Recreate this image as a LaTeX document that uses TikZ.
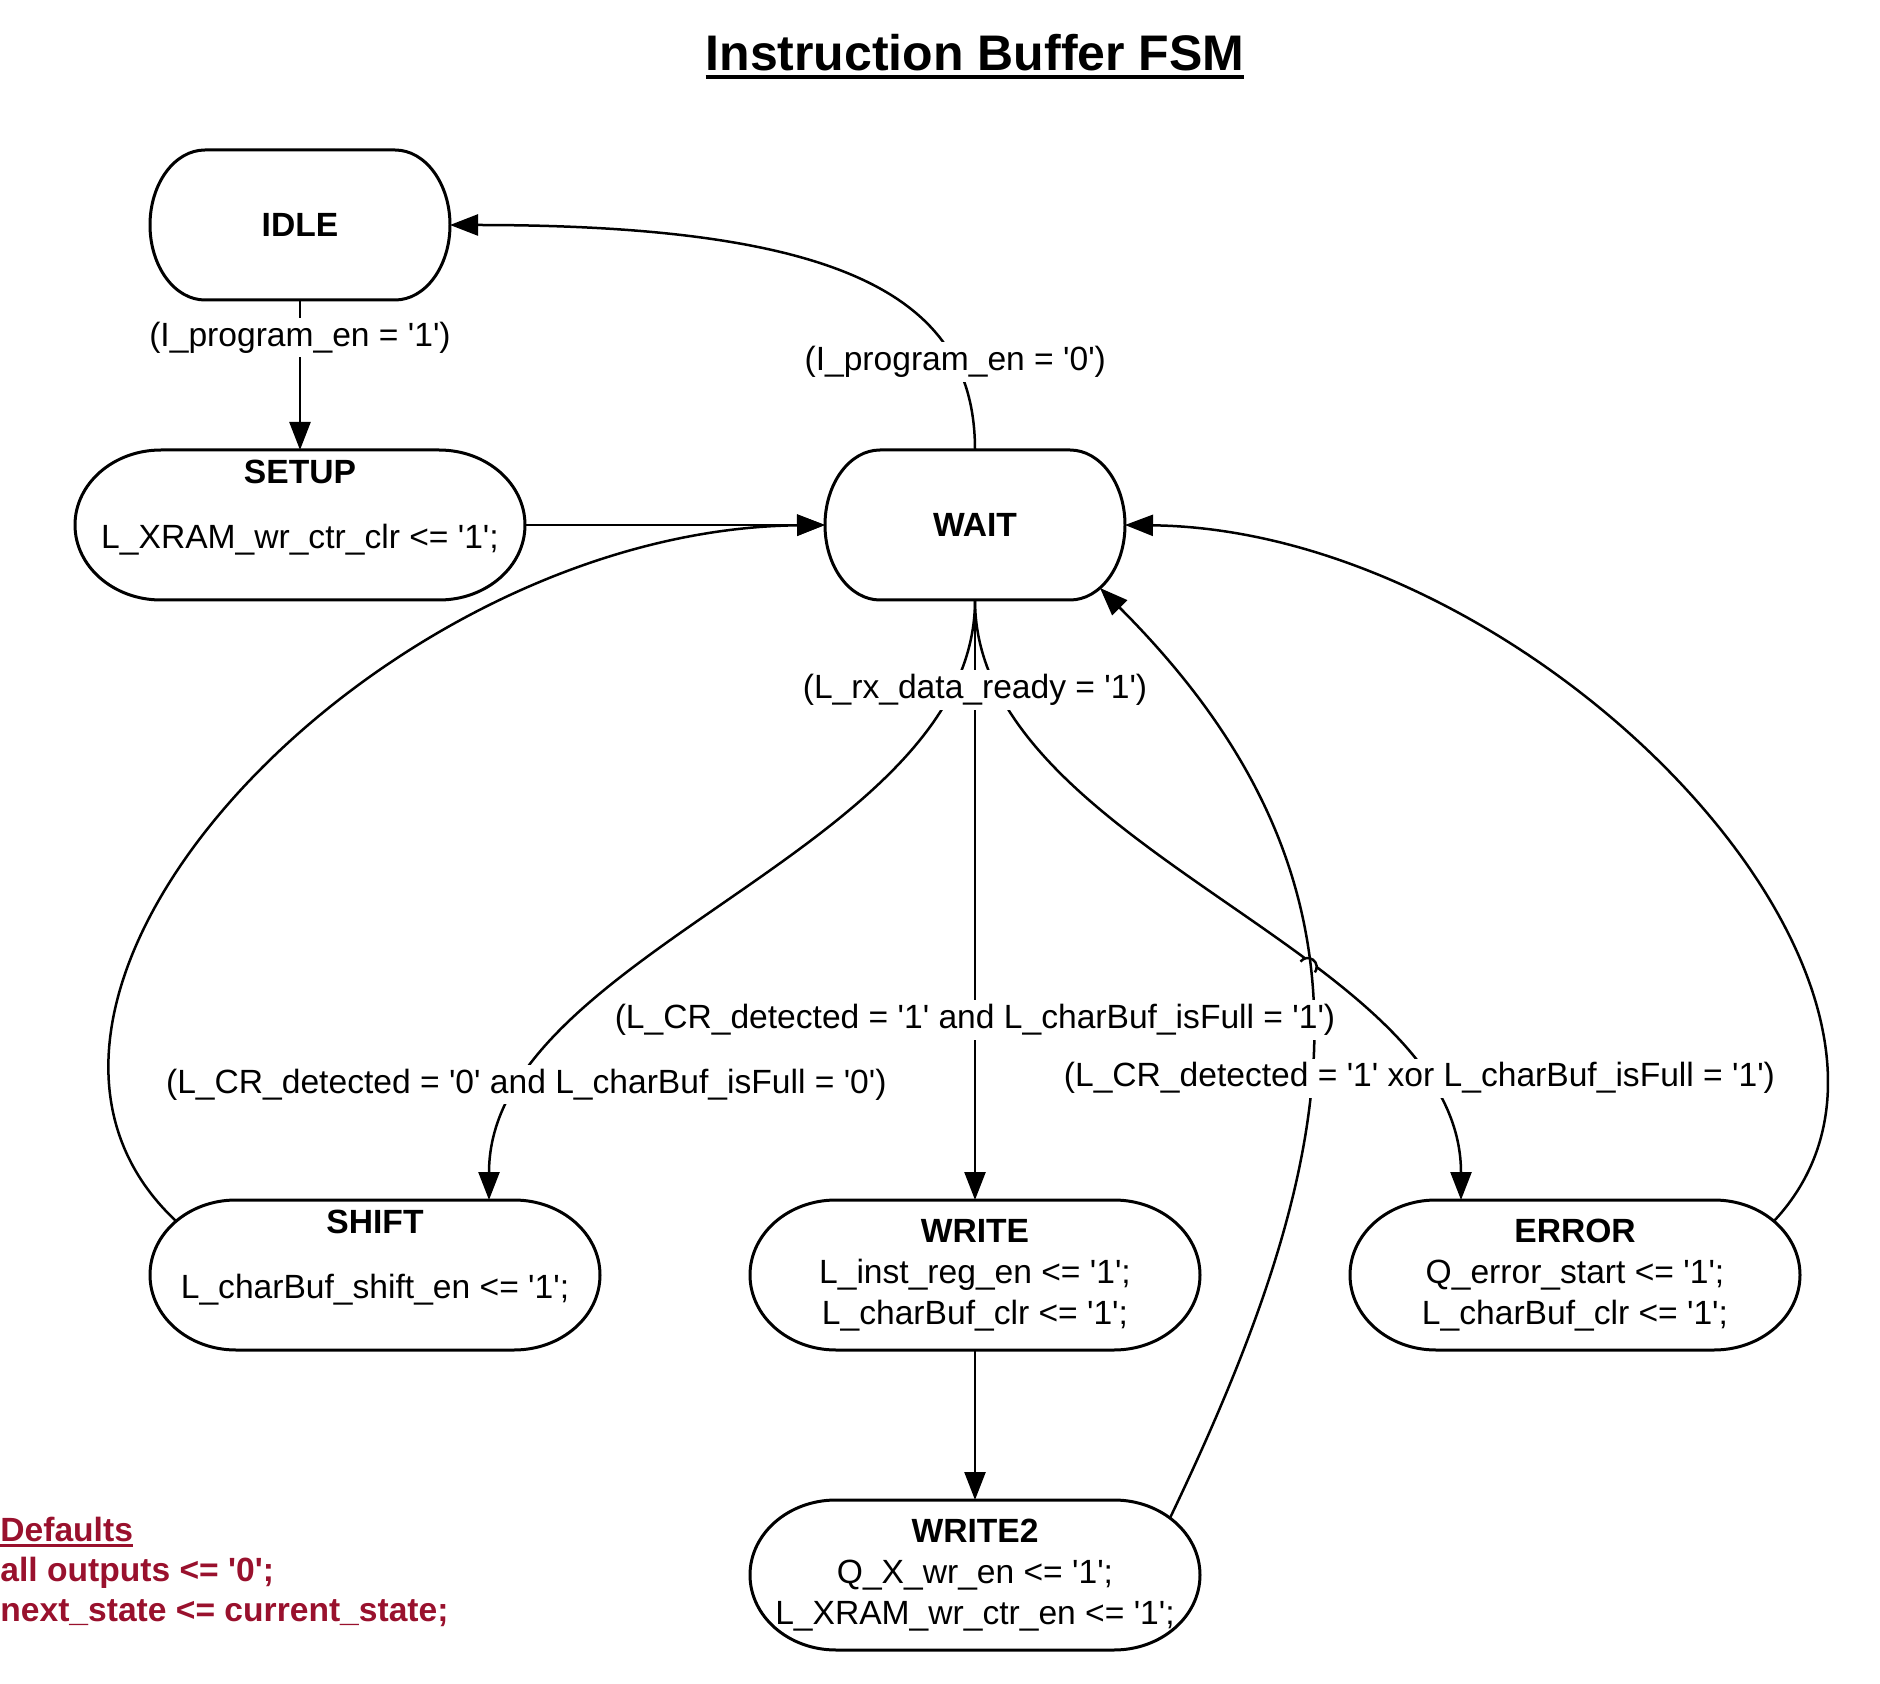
\documentclass[tikz,border=0pt]{standalone}
\usepackage{fontspec}
\newfontfamily\fsmfont{Liberation Sans}
\usetikzlibrary{arrows.meta,positioning,intersections}
\definecolor{defred}{RGB}{153,17,45}
% underline: #1 depth below baseline, #2 thickness, #3 text
\newcommand{\fsmul}[3]{\setbox0=\hbox{#3}\rlap{\rule[-#1]{\wd0}{#2}}\box0}

\begin{document}
\begin{tikzpicture}[
    x=0.5pt, y=-0.5pt,
    every node/.style={font=\fsmfont\fontsize{16.8}{20.5}\selectfont},
    box/.style={rectangle, minimum width=150pt, minimum height=75pt, inner sep=2pt, outer sep=0pt, align=center},
    wbox/.style={box, minimum width=225pt},
    outline/.style={line width=1.5pt},
    lbl/.style={fill=white, inner xsep=1pt, inner ysep=2pt},
    arr/.style={-{Triangle[length=14pt,width=10.5pt]}, line width=1.25pt}
  ]
  \useasboundingbox (0,0) rectangle (1880,1684);

  % title
  \node[font=\fsmfont\bfseries\fontsize{25}{30}\selectfont, anchor=base, inner sep=0pt] (title) at (975,71)
    {\fsmul{4pt}{1.8pt}{Instruction Buffer FSM}};

  % states
  \node[box] (idle) at (300,225) {\textbf{IDLE}};
  \node[wbox, below=75pt of idle] (setup) {\textbf{SETUP}\\[12pt] L\_XRAM\_wr\_ctr\_clr <= '1';\\ ~};
  \node[box, right=150pt of setup] (wait) {\textbf{WAIT}};
  \node[wbox, below=300pt of wait] (write) {\textbf{WRITE}\\ L\_inst\_reg\_en <= '1';\\ L\_charBuf\_clr <= '1';};
  \node[wbox, left=75pt of write] (shift) {\textbf{SHIFT}\\[12pt] L\_charBuf\_shift\_en <= '1';\\ ~};
  \node[wbox, right=75pt of write] (error) {\textbf{ERROR}\\ Q\_error\_start <= '1';\\ L\_charBuf\_clr <= '1';};
  \node[wbox, below=75pt of write] (write2) {\textbf{WRITE2}\\ Q\_X\_wr\_en <= '1';\\ L\_XRAM\_wr\_ctr\_en <= '1';};

  % state outlines with elliptic ends
  \foreach \n/\e in {idle/27.5pt, wait/27.5pt, setup/43pt, shift/43pt, write/43pt, error/43pt, write2/43pt}
    \draw[outline] ([xshift=\e]\n.north west) -- ([xshift=-\e]\n.north east)
      arc[start angle=90, end angle=-90, x radius=\e, y radius=37.5pt]
      -- ([xshift=\e]\n.south west)
      arc[start angle=270, end angle=90, x radius=\e, y radius=37.5pt] -- cycle;

  % transitions
  \draw[arr] (idle) -- coordinate[pos=0.25] (cprog1) (setup);
  \draw[arr] (wait.north) .. controls +(0,-150) and +(400,0) .. coordinate[pos=0.22] (cprog0) (idle.east);
  \draw[arr] (setup) -- (wait);
  \draw[arr] ([shift={(26,21)}]shift.north west) .. controls +(-240,-225) and +(-445,5) .. (wait.west);
  \draw[arr] ([shift={(-26,21)}]error.north east) .. controls +(210,-225) and +(415,5) .. (wait.east);
  \draw[arr] (wait.south) .. controls +(0,250) and +(0,-249) .. coordinate[pos=0.83] (cshift) ([xshift=57pt]shift.north);
  \draw[arr] (wait) -- coordinate[pos=0.15] (crx) coordinate[pos=0.7] (cwrite) (write);
  \draw[arr, name path=toerr] (wait.south) .. controls +(0,250) and +(0,-249) .. coordinate[pos=0.82] (cerror) ([xshift=-57pt]error.north);
  \draw[arr] (write) -- (write2);

  % WRITE2 back to WAIT, with a hop on the ERROR line
  \path[name path=back] ([shift={(-30,18)}]write2.north east) .. controls +(172,-360) and +(300,300) .. ([shift={(-25,-12)}]wait.south east);
  \path[name intersections={of=toerr and back, by=hop}];
  \fill[white] (hop) circle (4.5pt);
  \draw[arr] ([shift={(-30,18)}]write2.north east) .. controls +(172,-360) and +(300,300) .. ([shift={(-25,-12)}]wait.south east);
  \draw[line width=1.25pt] (hop) ++(143:4.5pt) arc[start angle=143, end angle=-37, radius=4.5pt];

  % guards
  \node[lbl] (lprog1) at (cprog1) {(I\_program\_en = '1')};
  \node[lbl] (lprog0) at (cprog0) {(I\_program\_en = '0')};
  \node[lbl] (lrx) at (crx) {(L\_rx\_data\_ready = '1')};
  \node[lbl] (lshift) at (cshift) {(L\_CR\_detected = '0' and L\_charBuf\_isFull = '0')};
  \node[lbl] (lwrite) at (cwrite) {(L\_CR\_detected = '1' and L\_charBuf\_isFull = '1')};
  \node[lbl] (lerror) at (cerror) {(L\_CR\_detected = '1' xor L\_charBuf\_isFull = '1')};

  % defaults
  \node[anchor=north west, inner sep=0pt, align=left, text=defred, font=\fsmfont\bfseries\fontsize{16.8}{20}\selectfont] (defaults) at (0,1517)
    {\fsmul{2.6pt}{1.7pt}{Defaults}\\ all outputs <= '0';\\ next\_state <= current\_state;};
\end{tikzpicture}
\end{document}
